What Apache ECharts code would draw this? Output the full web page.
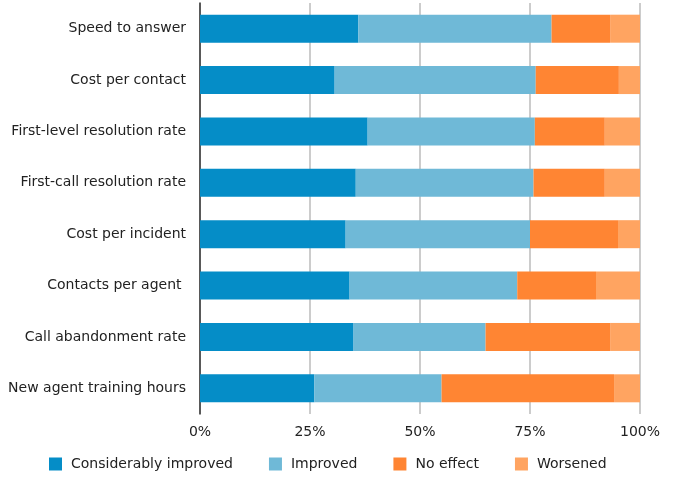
<!DOCTYPE html>
<html><head><meta charset="utf-8">
<script src="https://cdn.jsdelivr.net/npm/echarts@6/dist/echarts.min.js"></script>
<style>html,body{margin:0;padding:0;background:#fff}#c{width:675px;height:477px}</style>
</head><body><div id="c"></div>
<script>
const categories = ["Speed to answer","Cost per contact","First-level resolution rate","First-call resolution rate","Cost per incident","Contacts per agent ","Call abandonment rate","New agent training hours"];
const seriesNames = ["Considerably improved","Improved","No effect","Worsened"];
const considerablyImproved = [36.0, 30.6, 38.1, 35.4, 33.1, 34.0, 34.9, 26.0];
const improved =             [43.9, 45.7, 38.0, 40.4, 41.9, 38.1, 30.0, 28.9];
const noEffect =             [13.3, 18.9, 15.9, 16.2, 20.0, 17.9, 28.3, 39.2];
const worsened =             [ 6.8,  4.8,  8.0,  8.0,  5.0, 10.0,  6.8,  5.9];
const tickLabels = ["0%","25%","50%","75%","100%"];
const colors = ["#058DC7","#6FB9D7","#FF8533","#FFA461"];
const values = [considerablyImproved, improved, noEffect, worsened];

const chart = echarts.init(document.getElementById('c'), null, {renderer:'canvas'});
chart.setOption({
  animation:false,
  textStyle:{fontFamily:'DejaVu Sans'},
  grid:{left:200, right:35, top:3, bottom:63, containLabel:false},
  legend:{
    left:49, top:457, padding:0, itemWidth:13, itemHeight:13, itemGap:36,
    icon:'rect',
    textStyle:{fontSize:14, color:'#222', fontFamily:'DejaVu Sans', padding:[0,0,0,4]},
    data:seriesNames
  },
  xAxis:{
    type:'value', min:0, max:100, interval:25,
    axisLine:{show:false}, axisTick:{show:false},
    splitLine:{show:true, lineStyle:{color:'#bbbbbb', width:1.5}},
    axisLabel:{margin:11, fontSize:14, color:'#222', fontFamily:'DejaVu Sans',
      formatter:(v)=>tickLabels[Math.round(v/25)]}
  },
  yAxis:{
    type:'category', inverse:true, data:categories,
    axisLine:{show:true, lineStyle:{color:'#333', width:1.5}},
    axisTick:{show:false},
    axisLabel:{margin:14, fontSize:14, color:'#222', fontFamily:'DejaVu Sans'}
  },
  series: seriesNames.map((n,i)=>({
    name:n, type:'bar', stack:'total', data:values[i], barWidth:28,
    itemStyle:{color:colors[i]}
  }))
});
</script></body></html>
